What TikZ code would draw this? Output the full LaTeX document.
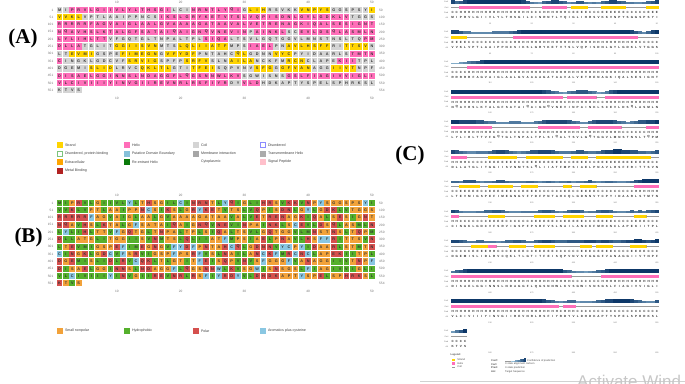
\documentclass[tikz,border=0pt]{standalone}
\usepackage{fontspec}
\setmainfont{Liberation Serif}
\newfontfamily\seqfont{Liberation Sans}
\usetikzlibrary{positioning}

\definecolor{strand}{HTML}{FFD400}
\definecolor{helix}{HTML}{FF6EB9}
\definecolor{coil}{HTML}{D4D4D4}
\definecolor{disblue}{HTML}{8C8CFF}
\definecolor{disgreen}{HTML}{7CC47C}
\definecolor{domain}{HTML}{86C1DA}
\definecolor{membrane}{HTML}{A6A6A6}
\definecolor{tmhelix}{HTML}{ABABAB}
\definecolor{extra}{HTML}{FFA500}
\definecolor{reentrant}{HTML}{0A7A0A}
\definecolor{signal}{HTML}{FFC0CB}
\definecolor{metal}{HTML}{B22222}
\definecolor{smallnp}{HTML}{F2A23A}
\definecolor{hydro}{HTML}{55B02C}
\definecolor{polar}{HTML}{D5504E}
\definecolor{arom}{HTML}{8AC7E2}
\definecolor{confdark}{HTML}{0B3567}
\definecolor{conflight}{HTML}{A5CDE4}
\definecolor{cartline}{HTML}{9A9A9A}

\colorlet{ssH}{helix}\colorlet{ssE}{strand}\colorlet{ssC}{coil}
\colorlet{cartH}{helix}\colorlet{cartE}{strand}\colorlet{cartC}{cartline}
\def\carthH{3}\def\carthE{3}\def\carthC{0.9}
\colorlet{resG}{smallnp}\colorlet{resA}{smallnp}\colorlet{resS}{smallnp}\colorlet{resT}{smallnp}\colorlet{resP}{smallnp}
\colorlet{resI}{hydro}\colorlet{resL}{hydro}\colorlet{resM}{hydro}\colorlet{resV}{hydro}
\colorlet{resR}{polar}\colorlet{resK}{polar}\colorlet{resD}{polar}\colorlet{resE}{polar}
\colorlet{resN}{polar}\colorlet{resQ}{polar}\colorlet{resH}{polar}
\colorlet{resF}{arom}\colorlet{resW}{arom}\colorlet{resY}{arom}\colorlet{resC}{arom}

% walk through a string, one residue at a time
\makeatletter
\newcount\rescount
\def\eachres#1#2{\rescount=0 \def\eachres@do{#2}\expandafter\eachres@loop#1\@nil}
\def\eachres@loop#1{\ifx#1\@nil\expandafter\@gobble\else\expandafter\@firstofone\fi
  {\advance\rescount by 1 \def\res{#1}\eachres@do\eachres@loop}}
\makeatother

\tikzset{
  panellabel/.style={font=\bfseries\fontsize{21}{24}\selectfont, inner sep=0pt},
  rowno/.style={font=\seqfont\fontsize{3.2}{3.5}\selectfont, text=black!55, inner sep=0pt},
  residue/.style={font=\seqfont\bfseries\fontsize{3.8}{4}\selectfont, text=black!80, inner sep=0pt},
  rescell/.style={residue, minimum width=5.75pt, minimum height=6.3pt},
  predchar/.style={font=\seqfont\bfseries\fontsize{3}{3}\selectfont, text=black!85, inner sep=0pt},
  trackname/.style={font=\seqfont\fontsize{2}{2}\selectfont, text=black!55, inner sep=0pt, anchor=east},
  trackno/.style={font=\seqfont\fontsize{2}{2}\selectfont, text=black!55, inner sep=0pt},
  legsq/.style={minimum size=5pt, inner sep=0pt, line width=0.6pt},
  leglabel/.style={font=\seqfont\fontsize{3.6}{4}\selectfont, text=black!75, inner sep=0pt, anchor=west},
  keylabel/.style={font=\seqfont\fontsize{2.6}{3}\selectfont, text=black!70, inner sep=0pt, anchor=west},
  keyhead/.style={keylabel, font=\seqfont\bfseries\fontsize{2.6}{3}\selectfont},
}

\begin{document}
\begin{tikzpicture}[x=1pt,y=-1pt]
\useasboundingbox (0,0) rectangle (685,383);

\node[panellabel] (labA) at (23,38) {(A)};
\node[panellabel] (labB) at (28.5,237) {(B)};
\node[panellabel] (labC) at (410,155) {(C)};

\foreach \k in {10,20,...,50} {
  \node[rowno] (ta\k) at ({56.4+6.375*(\k-0.5)},2.5) {\k};
  \node[rowno] (ba\k) at ({56.4+6.375*(\k-0.5)},98.5) {\k};
  \node[rowno] (tb\k) at ({56.4+6.375*(\k-0.5)},195.5) {\k};
  \node[rowno] (bb\k) at ({56.4+6.375*(\k-0.5)},291.5) {\k};
}

\foreach \s/\a/\p/\c [count=\r from 0] in {
MIPRVLGIIV LYLTHSGILC INRNTLYQIG LIHRSVKKVN PYSGGSPSYI/
CCHHHHHHHH HHHHHHHHCC CHHHHHHHHC EEECCCCCEE EEECCCCCCE/
CCHHHHHHHH HHHHHHHHHC CCHHHHHHCE EEECCCEEEE EECCCCCEEE/
8678999999 9999999875 4367887645 7754546788 7655445678,
VVKLVPTLAA IPPNCSIKSL GRYKETVTSL VQPISDNLGY LGDKLVTGGS/
EEEECCCCCC CCCCCCHHHH HHHHHHHHHH HHHHHHHHHH HHHHHHCCCC/
EEEECCCCCC CCCCCHHHHH HHHHHHHHHH HHHHHHHHHH HHHHHCCCCC/
8875544444 5555678999 9999999999 9999999999 9998754689,
RRRRRFAGVA IGLAALGVAA AAGATAAVAL VETRENAGKI QALSESIGNT/
HHHHHHHHHH HHHHHHHHHH HHHHHHHHHH HHHHHHHHHH HHHHHHHHHH/
CCCCHHHHHH HHHHHHHHHH HHHHHHHHHH HHHHHHHHHH HHHHHHHHHH/
2234567899 9999999999 9999999999 9999999999 9999999999,
NQAVHSLKTA LGFSATAIQA IGNQVNEVIN PAINKLSCEV LDSQLASMLN/
HHHHHHHHHH HHHHHHHHHH HHHHHHHHHH CHHHHHCCHH HHHHHHHHHH/
HHHHHHHHHH HHHHHHHHHH HHHHHHHCHH HHHHHCCHHH HHHHHHHHHH/
9999999999 9999999999 9987654356 7776534578 9999999999,
LYLIHLTTVF GQTGLTNPAL TPLSIQALTS VLGQTGGVLM NSTNSLTQPM/
HHHHHHHHCC CCCCCCCCCC CCCHHHHCCC CCCCCCCCCC CCCCCCCCHH/
HHHHHHHHHH CCCCCCCCCC CHHHHHHHHH HCCHHHHHHH HCCCCCCHHH/
9988887765 5444555444 5678888876 5446788887 6545677889,
DLLATGLITG GIISVNMTSL QLIIATFMPS IAELPNAVLH SFFRITTSVN/
HHHHCCCCCE EEEEEECCCE EEEEEEECCC HHHHCCEEEE EEECCEEEEC/
HHHHCCCCCE EEEEEECCEE EEEEEEECCE EEECCEEEEE EEEEEEEECC/
8765445556 7887654567 7888765556 7765567889 9887766567,
LTEVMIGSPE FIMEGNGVFY DFPNTAHCQL GDNNVYCPYI DAARLSTMTN/
CCEEEECCCC EEEEEECEEE EECCCCCCEE CCCCEEECCC CCCCCCHHHH/
CCEEEEECCE EEEEECCEEE ECCCCCCEEC CEEEECCCCC CCCCHHHHHH/
6657775455 6776555566 5456545564 5567545665 4456789999,
CINGKLGDCV FSRVIGSPFP SRFVSLNAIL ANCKFMRCNC LAPEKIITPL/
HCCCCCCCCC CEEEEECCCC EEEECCCEEE ECCCCCEEEC CCCCHHHCCC/
HHCCCCCCCE EEECCCCCCC EEEEECCEEE EECCCEEEEC CCCCEEECCC/
8754445566 7765444555 5677654567 7645567765 4456565678,
DGEMISLIDL RVCQKLTLGT ITFEISQPVN VSFGGGFVAN AGGIIVTNPF/
CCCCCEEEEC CCCEEEEECC CEEEECCCCC CEEECEEEEE CCCEEEECCC/
CCCCCEEEEH HCCCEEEECC EEEEECCCCC CEEECEEEEC CCCEEEECCC/
8876556655 5456677655 6788766677 7788878876 6788998789,
DISAELGGIN NSLNDAGGFL QGSNNWLKVS GWISNSGSLF IAGIVVIGLI/
HHHHHHHHHH HHHHHHHHHH HHHHHHHHHC CCCCCCHHHH HHHHHHHHHH/
HHHHHHHHHH HHHHHHHHHH HHHHHHHHHC CCCCCCHHHH HHHHHHHHHH/
5678999999 9999999999 9999999765 4434567899 9999999999,
VLCIVIIIYI NVGIIREVNR LRSFIYRDYV LDHDKAPTYS PELSPHRKSL/
HHHHHHHHHH HHHHHHHHHH HHHHHHHCCH HHCCCCCCCC CCCCCCCCCC/
HHHHHHHHHH HHHHHHHHHH HHHHHHCHHH CCCCCCCCCC CCCCCCCCCC/
9999999999 9999999999 9987654566 3444567889 9998765447,
KTVS/CCCC/CCCC/3579} {
  \pgfmathsetmacro\ya{10+7.3*\r}
  \pgfmathsetmacro\yb{203+7.3*\r}
  \pgfmathsetmacro\yc{2+29.9*\r}
  \pgfmathtruncatemacro\nfirst{50*\r+1}
  \pgfmathtruncatemacro\nlast{min(50*\r+50,554)}
  % (A)
  \eachres{\a}{\path[fill=ss\res] ({56.7+6.375*(\the\rescount-1)},\ya-3.15) rectangle +(5.75,6.3);}
  \eachres{\s}{\node[residue] (a\r-\the\rescount) at ({59.6+6.375*(\the\rescount-1)},\ya) {\res};}
  \node[rowno, anchor=east] (al\r) at (53.5,\ya) {\nfirst};
  \node[rowno, anchor=west] (ar\r) at (379,\ya) {\nlast};
  % (B)
  \eachres{\s}{\node[rescell, fill=res\res] (b\r-\the\rescount) at ({59.6+6.375*(\the\rescount-1)},\yb) {\res};}
  \node[rowno, anchor=east] (bl\r) at (53.5,\yb) {\nfirst};
  \node[rowno, anchor=west] (br\r) at (379,\yb) {\nlast};
  % (C)
  \node[trackname] (conf\r) at (448.5,\yc) {Conf};
  \node[trackname] (cart\r) at (448.5,\yc+5.5) {Cart};
  \node[trackname] (pred\r) at (448.5,\yc+10.5) {Pred};
  \node[trackname] (seq\r) at (448.5,\yc+15.5) {AA};
  \eachres{\c}{\pgfmathsetmacro\ch{0.5+0.4*\res}\pgfmathtruncatemacro\cm{11*\res}
    \path[fill=confdark!\cm!conflight] ({450.5+4.17*(\the\rescount-1)},\yc+2) rectangle +(4.25,-\ch);}
  \eachres{\p}{\edef\th{\csname carth\res\endcsname}
    \path[fill=cart\res] ({450.5+4.17*(\the\rescount-1)},{\yc+5.5-\th/2}) rectangle +(4.3,\th);
    \node[predchar] (p\r-\the\rescount) at ({452.6+4.17*(\the\rescount-1)},\yc+10.5) {\res};}
  \eachres{\s}{\node[predchar] (c\r-\the\rescount) at ({452.6+4.17*(\the\rescount-1)},\yc+15.5) {\res};}
  \foreach \k in {10,20,...,50} {
    \pgfmathtruncatemacro\nk{50*\r+\k}
    \node[trackno] (n\r-\k) at ({450.5+4.17*(\k-0.5)},\yc+21.5) {\nk};
  }
}

% legend (A)
\foreach \lx/\ly/\lf/\ld/\lt [count=\i] in {
  57/145/strand/strand/Strand, 124/145/helix/helix/Helix,
  193/145/coil/coil/Coil, 260/145/white/disblue/Disordered,
  57/153.5/white/disgreen/{Disordered, protein binding},
  124/153.5/domain/domain/Putative Domain Boundary,
  193/153.5/membrane/membrane/Membrane interaction,
  260/153.5/tmhelix/tmhelix/Transmembrane Helix,
  57/162/extra/extra/Extracellular, 124/162/reentrant/reentrant/Re-entrant Helix,
  193/162/white/white/Cytoplasmic, 260/162/signal/signal/Signal Peptide,
  57/170.5/metal/metal/Metal Binding} {
  \node[legsq, fill=\lf, draw=\ld] (lga\i) at (\lx+2.5,\ly) {};
  \node[leglabel, right=2.5pt of lga\i] (lgat\i) {\lt};
}

% legend (B)
\foreach \lx/\lf/\lt [count=\i] in {57/smallnp/Small nonpolar, 124/hydro/Hydrophobic,
  193/polar/Polar, 260/arom/Aromatics plus cysteine} {
  \node[legsq, fill=\lf, draw=\lf] (lgb\i) at (\lx+2.5,331) {};
  \node[leglabel, right=2.5pt of lgb\i] (lgbt\i) {\lt};
}

% legend (C)
\node[keyhead] (lgc) at (450.5,354.5) {Legend:};
\node[minimum width=3pt, minimum height=2.6pt, inner sep=0pt, fill=strand] (kstrand) at (453,359.8) {};
\node[keylabel, right=2.5pt of kstrand] (kstrandt) {Strand};
\node[minimum width=3pt, minimum height=2.6pt, inner sep=0pt, fill=helix] (khelix) at (453,363.4) {};
\node[keylabel, right=2.5pt of khelix] (khelixt) {Helix};
\node[minimum width=3pt, minimum height=0.8pt, inner sep=0pt, fill=cartline] (kcoil) at (453,367) {};
\node[keylabel, right=2.5pt of kcoil] (kcoilt) {Coil};
\node[keyhead] (kconf) at (491,360.5) {Conf:};
\node[keyhead] (kcart) at (491,364.2) {Cart:};
\node[keyhead] (kpred) at (491,367.8) {Pred:};
\node[keyhead] (kaa) at (491,371.4) {AA:};
\draw[cartline, line width=0.3pt] (505,361.5) -- (511,361.5);
\foreach \j in {0,...,9}
  \path[fill=confdark!\j0!conflight] ({510.5+1.5*\j},361.5) rectangle +(1.55,{-0.4-0.3*\j});
\node[keylabel] (kconft) at (527,360.5) {Confidence of prediction};
\node[keylabel] (kcartt) at (505,364.2) {3-state alignment cartoon};
\node[keylabel] (kpredt) at (505,367.8) {3-state prediction};
\node[keylabel] (kaat) at (505,371.4) {Target Sequence};

\draw[black!18, line width=0.8pt] (420,381) -- (685,381);
\begin{scope}
  \clip (0,0) rectangle (685,383);
  \node[anchor=base west, inner sep=0pt, text=black!22, font=\seqfont\fontsize{17}{17}\selectfont] (wm) at (577,387) {Activate Wind};
\end{scope}
\end{tikzpicture}
\end{document}
